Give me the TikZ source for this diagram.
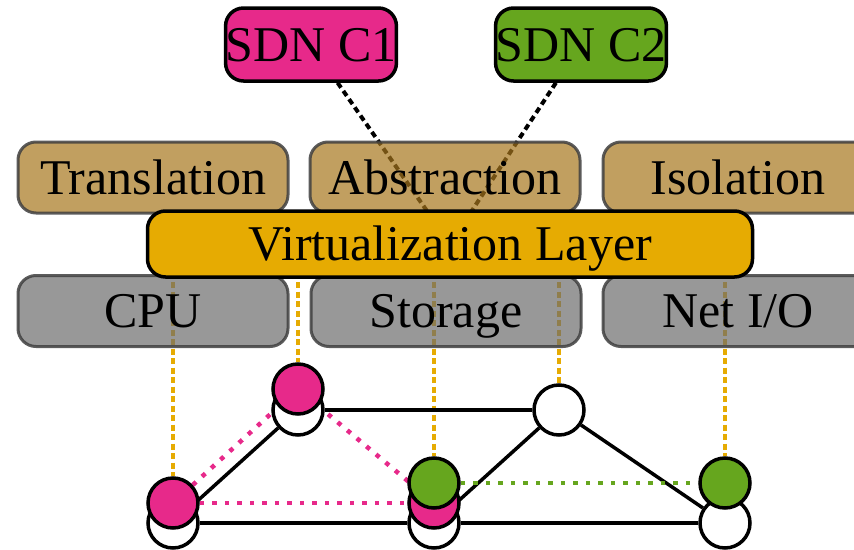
\documentclass[tikz,border=0pt]{standalone}
\usepackage{fontspec}
\setmainfont{Liberation Serif}
\definecolor{cmag}{HTML}{E7298A}
\definecolor{cgreen}{HTML}{66A61E}
\definecolor{cyellow}{HTML}{E6AB02}
\definecolor{ctan}{HTML}{A6761D}
\definecolor{cgray}{HTML}{6C6C6C}
\pgfdeclarelayer{bg}
\pgfsetlayers{bg,main}
\begin{document}
\begin{tikzpicture}[x=1pt,y=-1pt,
  lbl/.style={font=\fontsize{50}{60}\selectfont, text=black, text opacity=1,
    text height=33pt, text depth=0pt, inner sep=0pt},
  svcbox/.style={lbl, rounded corners=18pt, minimum width=270pt, minimum height=71pt,
    fill=ctan, fill opacity=0.7, draw=black!75, draw opacity=0.85, line width=3pt},
  resbox/.style={svcbox, fill=cgray},
  virtbox/.style={lbl, rounded corners=18pt, minimum width=605pt, minimum height=66pt,
    fill=cyellow, draw=black, line width=3.5pt},
  ctrlbox/.style={lbl, rounded corners=18pt, minimum width=167pt, minimum height=73pt,
    draw=black, line width=3.5pt},
  host/.style={circle, minimum size=50pt, inner sep=0pt, draw=black, line width=3.5pt, fill=white},
  phys/.style={draw=black, line width=3.5pt},
  vlink/.style={line width=4.5pt, dash pattern=on 4.5pt off 8pt},
  ctrllink/.style={draw=black, line width=4pt, dash pattern=on 6pt off 4pt},
  maplink/.style={draw=cyellow, line width=3.5pt, dash pattern=on 6pt off 3.5pt}
]
\useasboundingbox (0,0) rectangle (854,549);

% service boxes
\node[svcbox] (trans) at (153,177.5) {Translation};
\node[svcbox] (abstr) at (445,177.5) {Abstraction};
\node[svcbox] (isol)  at (738,177.5) {Isolation};

% resource boxes
\node[resbox] (cpu)  at (153,311) {CPU};
\node[resbox] (stor) at (446,311) {Storage};
\node[resbox] (net)  at (738,311) {Net I/O};

% virtualization layer
\node[virtbox] (virt) at (450,244) {Virtualization Layer};

% controllers
\node[ctrlbox, fill=cmag]   (c1) at (311,44.5) {SDN C1};
\node[ctrlbox, fill=cgreen] (c2) at (581,44.5) {SDN C2};

% physical hosts
\node[host] (p1) at (298,410) {};
\node[host] (p2) at (173,523) {};
\node[host] (p3) at (434,523) {};
\node[host] (p4) at (559,410) {};
\node[host] (p5) at (725,523) {};

% virtual network of SDN C1
\node[host, fill=cmag] (v1b) at (173,503) {};
\node[host, fill=cmag] (v1c) at (434,503) {};
\node[host, fill=cmag] (v1a) at (298,389) {};

% virtual network of SDN C2
\node[host, fill=cgreen] (v2a) at (434,483) {};
\node[host, fill=cgreen] (v2b) at (725,483) {};

\begin{pgfonlayer}{bg}
  % controller attachments
  \draw[ctrllink] (c1) -- (virt.center);
  \draw[ctrllink] (c2) -- (virt.center);
  % resource mappings
  \draw[maplink] (v1b |- virt.center) -- (v1b);
  \draw[maplink] (v1a |- virt.center) -- (v1a);
  \draw[maplink] (v2a |- virt.center) -- (v2a);
  \draw[maplink] (p4 |- virt.center) -- (p4);
  \draw[maplink] (v2b |- virt.center) -- (v2b);
  % physical links
  \draw[phys] (p1) -- (p4);
  \draw[phys] (p2) -- (p1);
  \draw[phys] (p2) -- (p3);
  \draw[phys] (p3) -- (p4);
  \draw[phys] (p4) -- (p5);
  \draw[phys] (p3) -- (p5);
  % virtual links
  \draw[vlink, draw=cmag] (v1b) -- (v1a);
  \draw[vlink, draw=cmag] (v1a) -- (v1c);
  \draw[vlink, draw=cmag] (v1b) -- (v1c);
  \draw[vlink, draw=cgreen] (v2a) -- (v2b);
\end{pgfonlayer}
\end{tikzpicture}
\end{document}
